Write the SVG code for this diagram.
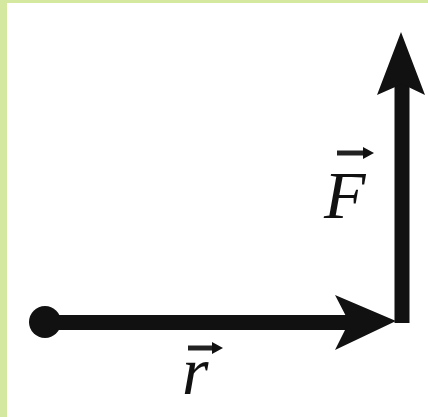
<svg xmlns="http://www.w3.org/2000/svg" width="428" height="417" viewBox="0 0 428 417">
<style>
.shaft{stroke:#111;stroke-width:15;fill:none}
.head{fill:#111}
.lbl{font-family:"Liberation Serif","Times New Roman",serif;font-style:italic;font-size:68px;fill:#111}
.vec{stroke:#222;stroke-width:5;fill:none}
</style>
<rect x="0" y="0" width="428" height="417" fill="#fff"/>
<rect x="0" y="0" width="7" height="417" fill="#d4e8a0"/>
<rect x="0" y="0" width="428" height="3" fill="#d4e8a0"/>
<g id="connectors">
<g id="r-vector">
<circle cx="45" cy="322" r="16" fill="#111"/>
<line class="shaft" x1="45" y1="322.5" x2="352" y2="322.5"/>
<polygon class="head" points="396,321 335,295 349,322 335,350"/>
</g>
<g id="F-vector">
<line class="shaft" x1="402" y1="323" x2="402" y2="84"/>
<polygon class="head" points="401,32 425,95 402,84 377,95"/>
</g>
</g>
<g id="label-F">
<text class="lbl" x="324" y="218">F</text>
<line class="vec" x1="337" y1="153" x2="366" y2="153"/>
<polygon class="head" points="374,153 363,147 363,159"/>
</g>
<g id="label-r">
<text class="lbl" x="182" y="394">r</text>
<line class="vec" x1="188" y1="348" x2="215" y2="348"/>
<polygon class="head" points="223,348 212,342 212,354"/>
</g>
</svg>
